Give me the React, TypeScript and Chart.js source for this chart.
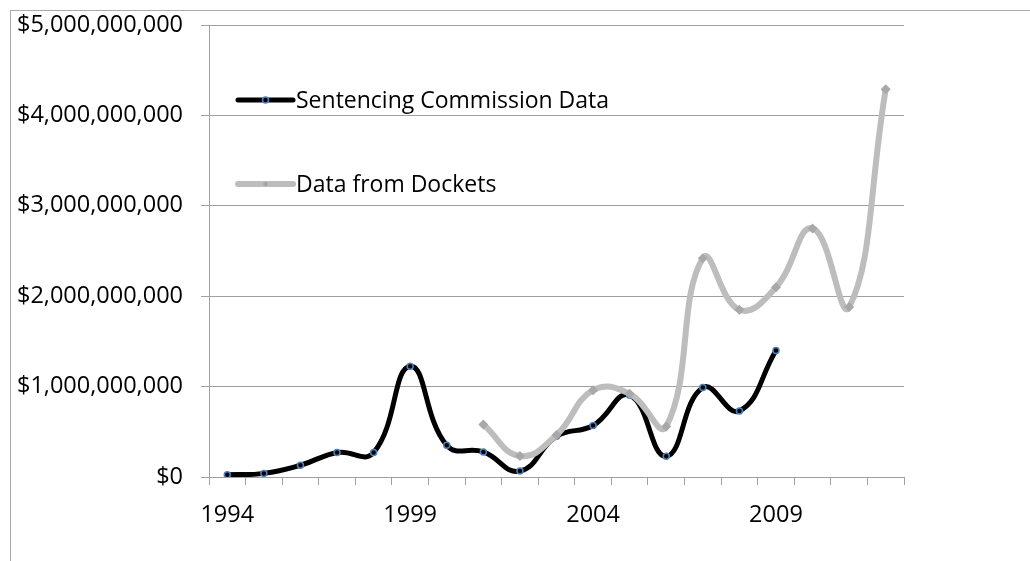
import React, { useEffect, useRef } from "react";
import { Chart, registerables } from "chart.js";

Chart.register(...registerables);

const years: string[] = [
  "1994", "1995", "1996", "1997", "1998", "1999", "2000", "2001", "2002", "2003",
  "2004", "2005", "2006", "2007", "2008", "2009", "2010", "2011", "2012",
];

const sentencingCommission: (number | null)[] = [
  25e6, 40e6, 130e6, 270e6, 270e6, 1226e6, 350e6, 277e6, 66e6, 450e6,
  570e6, 905e6, 230e6, 990e6, 730e6, 1400e6, null, null, null,
];

const dockets: (number | null)[] = [
  null, null, null, null, null, null, null, 580e6, 233e6, 465e6,
  960e6, 920e6, 560e6, 2420e6, 1850e6, 2100e6, 2750e6, 1880e6, 4290e6,
];

const shownYearLabels: string[] = ["1994", "1999", "2004", "2009"];

const FONT = "'Open Sans', 'Noto Sans', sans-serif";
const GRID = "rgb(160,160,160)";

const insideLegend = {
  id: "insideLegend",
  afterDraw(chart: any) {
    const ctx = chart.ctx;
    const area = chart.chartArea;
    const rows = [
      { ds: chart.data.datasets[0], y: 100 },
      { ds: chart.data.datasets[1], y: 184 },
    ];
    ctx.save();
    rows.forEach((r) => {
      const x0 = area.left + 29;
      const x1 = area.left + 84;
      ctx.strokeStyle = r.ds.borderColor;
      ctx.lineWidth = r.ds.borderWidth;
      ctx.lineCap = "round";
      ctx.beginPath();
      ctx.moveTo(x0, r.y);
      ctx.lineTo(x1, r.y);
      ctx.stroke();
      const cx = (x0 + x1) / 2;
      ctx.fillStyle = r.ds.pointBackgroundColor;
      ctx.strokeStyle = r.ds.pointBorderColor;
      ctx.lineWidth = r.ds.pointBorderWidth;
      ctx.beginPath();
      if (r.ds.pointStyle === "rectRot") {
        const s = 3;
        ctx.moveTo(cx, r.y - s);
        ctx.lineTo(cx + s, r.y);
        ctx.lineTo(cx, r.y + s);
        ctx.lineTo(cx - s, r.y);
        ctx.closePath();
        ctx.fill();
      } else {
        ctx.arc(cx, r.y, r.ds.pointRadius, 0, Math.PI * 2);
        ctx.fill();
        ctx.stroke();
      }
      ctx.fillStyle = "#000";
      ctx.font = `23px ${FONT}`;
      ctx.textAlign = "left";
      ctx.textBaseline = "middle";
      ctx.fillText(r.ds.label, x1 + 3, r.y + 1);
    });
    ctx.restore();
  },
};

export default function App() {
  const ref = useRef<HTMLCanvasElement | null>(null);

  useEffect(() => {
    document.body.style.margin = "0";
    if (!ref.current) return;
    const chart = new Chart(ref.current, {
      type: "line",
      data: {
        labels: years,
        datasets: [
          {
            label: "Sentencing Commission Data",
            data: sentencingCommission,
            borderColor: "#000000",
            borderWidth: 5,
            borderCapStyle: "round",
            tension: 0.45,
            pointStyle: "circle",
            pointRadius: 3,
            pointBorderWidth: 1.5,
            pointBorderColor: "#4F81BD",
            pointBackgroundColor: "#000000",
            order: 2,
          } as any,
          {
            label: "Data from Dockets",
            data: dockets,
            borderColor: "#BDBDBD",
            borderWidth: 6,
            borderCapStyle: "round",
            tension: 0.45,
            pointStyle: "rectRot",
            pointRadius: 5,
            pointBorderWidth: 0,
            pointBorderColor: "#A8A8A8",
            pointBackgroundColor: "#A8A8A8",
            order: 1,
          } as any,
        ],
      },
      options: {
        animation: false,
        responsive: false,
        devicePixelRatio: 1,
        layout: { padding: { left: 0, top: 25, right: 126, bottom: 0 } },
        plugins: {
          legend: { display: false },
          tooltip: { enabled: false },
        },
        scales: {
          x: {
            type: "category",
            offset: true,
            grid: {
              offset: true,
              drawOnChartArea: false,
              drawTicks: true,
              tickLength: 8,
              color: GRID,
              lineWidth: 1,
            },
            border: { display: true, color: GRID, width: 1 },
            ticks: {
              autoSkip: false,
              maxRotation: 0,
              minRotation: 0,
              padding: 16,
              color: "#000",
              font: { family: FONT, size: 23.5 },
              callback: (_v: any, i: number) =>
                shownYearLabels.includes(years[i]) ? years[i] : "",
            },
            afterFit: (s: any) => {
              s.height = 84;
              s.paddingLeft = 0;
              s.paddingRight = 0;
            },
          },
          y: {
            min: 0,
            max: 5e9,
            grid: {
              color: GRID,
              lineWidth: 1,
              tickLength: 8,
            },
            border: { display: true, color: GRID, width: 1 },
            ticks: {
              stepSize: 1e9,
              padding: 18,
              color: "#000",
              font: { family: FONT, size: 23.5 },
              callback: (v: any) => "$" + Number(v).toLocaleString("en-US"),
            },
            afterFit: (s: any) => {
              s.width = 209;
              s.paddingTop = 0;
              s.paddingBottom = 0;
            },
          },
        },
      },
      plugins: [insideLegend],
    });
    return () => chart.destroy();
  }, []);

  return (
    <div style={{ position: "absolute", left: 0, top: 0, width: 1030, height: 561, background: "#fff" }}>
      <div
        style={{
          position: "absolute",
          left: 10,
          top: 10,
          width: 1030,
          height: 561,
          borderTop: "1px solid rgb(170,170,170)",
          borderLeft: "1px solid rgb(170,170,170)",
        }}
      />
      <canvas ref={ref} width={1030} height={561} style={{ position: "absolute", left: 0, top: 0 }} />
    </div>
  );
}
